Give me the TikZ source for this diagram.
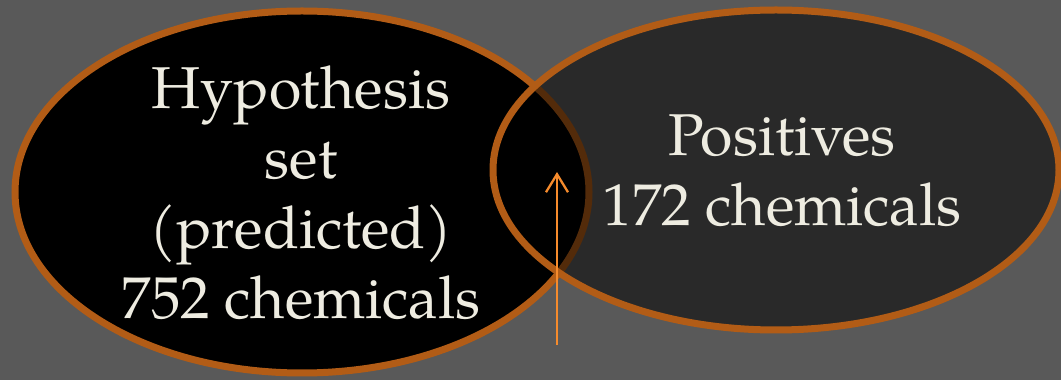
\documentclass[tikz,border=0pt]{standalone}
\usepackage{fontspec}
\setmainfont{TeX Gyre Pagella}
\usetikzlibrary{arrows.meta}
\definecolor{bg}{HTML}{595959}
\definecolor{rim}{RGB}{178,92,22}
\definecolor{cream}{HTML}{EEECE1}
\definecolor{pointer}{HTML}{F68B2C}
\tikzset{
  setshape/.style={line width=7pt, draw=rim},
  settext/.style={text=cream, align=center, inner sep=0pt,
    font=\fontsize{59}{70}\selectfont},
}
\begin{document}
\begin{tikzpicture}[x=1pt,y=1pt]
  % canvas
  \fill[bg] (0,0) rectangle (1061,380);
  \useasboundingbox (0,0) rectangle (1061,380);
  % predicted set
  \path[setshape, fill=black] (302,188) ellipse [x radius=287, y radius=181];
  % positive set, translucent so the overlap stays dark
  \path[setshape, fill=black, fill opacity=0.53] (776,210) ellipse [x radius=283, y radius=160];
  % labels
  \node[settext] (hyp) at (301,187.5) {Hypothesis\\set\\(predicted)\\752 chemicals};
  \node[settext] (pos) at (782,209) {Positives\\172 chemicals};
  % pointer into the overlap
  \coordinate (tail) at (557,35);
  \coordinate (tip) at (557,208);
  \draw[pointer, line width=2.3pt, -{Straight Barb[length=18pt, width=22pt]}] (tail) -- (tip);
\end{tikzpicture}
\end{document}
